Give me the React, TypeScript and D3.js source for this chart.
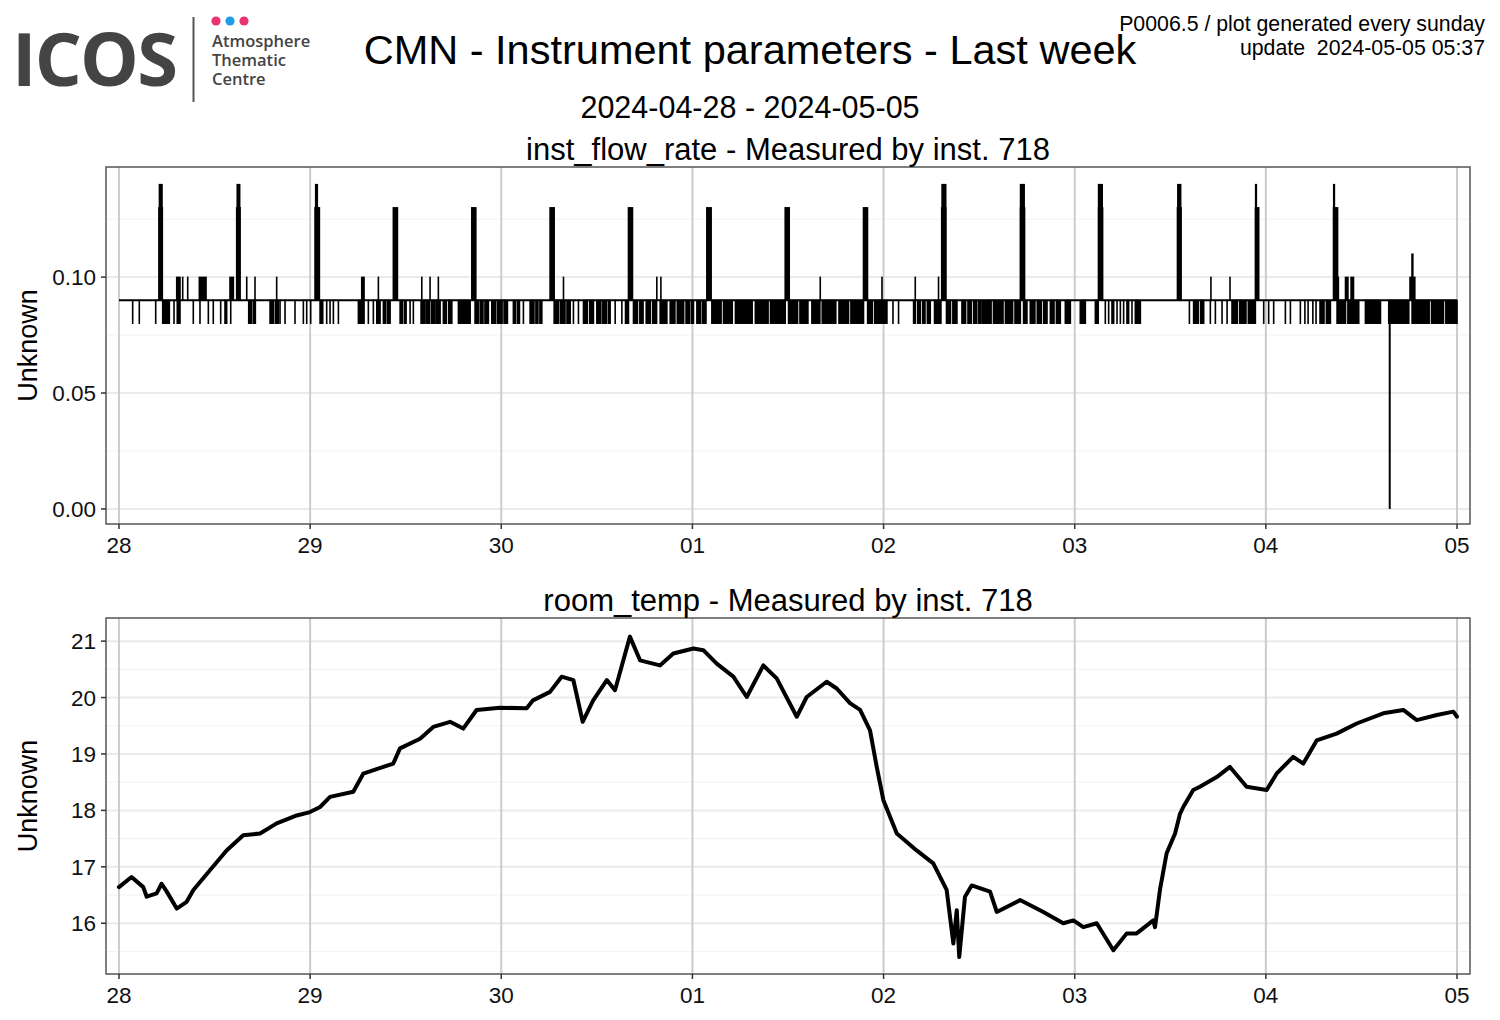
import React from "react";
import * as d3 from "d3";

// ---------- data ----------
const dayHours = [0, 24, 48, 72, 96, 120, 144, 168];
const dayLabels = ["28", "29", "30", "01", "02", "03", "04", "05"];

const flowMajor = [0, 0.05, 0.1];
const flowMajorLabels = ["0.00", "0.05", "0.10"];
const flowMinor = [0.025, 0.075, 0.125];

const tempMajor = [16, 17, 18, 19, 20, 21];
const tempMajorLabels = ["16", "17", "18", "19", "20", "21"];
const tempMinor = [15.5, 16.5, 17.5, 18.5, 19.5, 20.5];

// inst_flow_rate: baseline value and short excursions [startHour, endHour, value]
const flowBaseline = 0.09;
const flowBaseStart = 0;
const flowBaseEnd = 168;

const flowDips: [number, number][] = [
  [1.72, 1.72], [2.55, 2.55], [4.61, 4.61], [5.49, 6.32], [6.91, 6.91], [7.32, 7.66],
  [9.33, 9.33], [10.17, 10.17], [11.22, 11.22], [11.84, 11.84], [12.77, 12.77], [13.31, 13.52],
  [14.03, 14.03], [16.29, 16.6], [16.85, 17.12], [18.97, 19.4], [19.65, 20.01], [20.22, 20.22],
  [20.85, 20.85], [22.1, 22.1], [23.15, 23.15], [23.57, 23.57], [24.07, 24.07], [25.25, 25.58],
  [26.08, 26.08], [26.5, 26.5], [26.92, 26.92], [27.55, 27.55], [30.06, 30.77], [31.31, 31.31],
  [31.94, 31.94], [32.37, 32.78], [33.2, 33.5], [33.75, 34.04], [35.3, 35.6], [35.85, 36.05],
  [36.55, 36.55], [36.96, 36.96], [37.93, 38.43], [38.65, 39.0], [39.25, 39.69], [39.9, 40.32],
  [40.73, 41.1], [41.4, 41.79], [42.62, 44.09], [44.71, 45.1], [45.35, 45.7], [45.95, 46.38],
  [46.81, 47.3], [47.55, 48.1], [48.35, 48.77], [49.52, 49.8], [50.05, 50.28], [50.78, 50.78],
  [51.62, 52.1], [52.35, 52.6], [52.85, 53.09], [54.64, 55.2], [55.45, 56.0], [56.25, 56.65],
  [57.06, 57.06], [57.69, 57.69], [58.32, 58.8], [59.1, 59.57], [60.0, 60.5], [60.75, 61.2],
  [61.45, 61.67], [62.3, 62.3], [63.14, 63.14], [63.6, 63.97], [64.6, 65.1], [65.4, 65.8],
  [66.2, 66.7], [67.0, 67.5], [67.95, 68.79], [69.21, 69.8], [70.1, 70.9], [71.2, 71.6],
  [71.85, 72.13], [72.56, 73.0], [73.25, 73.7], [74.44, 75.6], [75.9, 77.0], [77.4, 79.5],
  [79.9, 81.5], [81.8, 83.65], [84.07, 85.2], [85.5, 86.5], [87.0, 88.0], [88.3, 90.0],
  [90.4, 91.6], [91.9, 93.48], [94.0, 94.6], [94.9, 95.5], [95.58, 96.42], [97.18, 97.18],
  [97.88, 97.88], [99.77, 100.0], [100.3, 100.6], [100.9, 101.2], [101.5, 101.86], [102.4, 103.2],
  [103.9, 104.4], [104.7, 105.21], [105.84, 106.3], [106.6, 107.0], [107.3, 107.7], [107.95, 108.14],
  [108.35, 109.5], [109.8, 111.0], [111.3, 112.2], [112.5, 113.17], [113.58, 114.0],
  [114.42, 115.0], [115.3, 115.8], [116.1, 116.52], [116.94, 117.4], [117.7, 118.19],
  [118.82, 119.45], [120.7, 121.33], [122.59, 122.95], [123.84, 123.84], [124.26, 124.26],
  [124.68, 124.89], [125.31, 125.31], [125.73, 125.73], [126.14, 126.14], [126.56, 126.77],
  [127.19, 127.19], [127.61, 128.24], [134.4, 134.4], [134.93, 135.5], [135.8, 136.19],
  [137.03, 137.03], [137.66, 137.66], [138.5, 138.5], [139.13, 139.13], [139.75, 140.4],
  [140.7, 141.5], [141.8, 142.68], [143.73, 143.73], [144.35, 144.35], [144.98, 144.98],
  [146.45, 146.45], [147.08, 147.08], [148.33, 148.33], [148.9, 148.9], [149.3, 149.3],
  [149.9, 149.9], [150.3, 150.3], [150.8, 151.3], [151.6, 152.1], [152.94, 154.0],
  [154.3, 155.66], [156.5, 158.39], [159.43, 161.94], [162.36, 164.5], [164.8, 166.3],
  [166.6, 168.0],
];
const flowDipValue = 0.08;

const flowUps: [number, number, number][] = [
  [7.25, 7.66, 0.1], [8.0, 8.0, 0.1], [8.63, 8.63, 0.1], [10.09, 10.93, 0.1], [13.94, 14.36, 0.1],
  [16.04, 16.04, 0.1], [17.08, 17.08, 0.1], [19.8, 19.8, 0.1], [25.04, 25.04, 0.1],
  [30.48, 30.77, 0.1], [32.57, 32.57, 0.1], [38.02, 38.02, 0.1], [39.06, 39.06, 0.1],
  [40.1, 40.1, 0.1], [55.81, 55.81, 0.1], [67.53, 67.53, 0.1], [68.04, 68.04, 0.1],
  [88.05, 88.05, 0.1], [95.8, 95.8, 0.1], [99.98, 99.98, 0.1], [102.9, 102.9, 0.1],
  [137.1, 137.1, 0.1], [139.5, 139.5, 0.1], [153.1, 153.1, 0.1], [154.0, 154.3, 0.1],
  [154.7, 155.0, 0.1], [162.1, 162.7, 0.1], [162.35, 162.45, 0.11],
];

const flowPeaks: [number, number, number][] = [
  [5.02, 5.44, 0.13], [5.08, 5.4, 0.14],
  [14.78, 15.2, 0.13], [14.85, 15.15, 0.14],
  [24.62, 25.16, 0.13], [24.7, 24.9, 0.14],
  [34.45, 34.96, 0.13],
  [44.3, 44.8, 0.13],
  [54.13, 54.64, 0.13],
  [63.97, 64.47, 0.13],
  [73.81, 74.35, 0.13],
  [83.65, 84.15, 0.13],
  [93.48, 93.98, 0.13],
  [103.3, 103.8, 0.13], [103.35, 103.8, 0.14],
  [113.2, 113.7, 0.13], [113.2, 113.65, 0.14],
  [123.0, 123.5, 0.13], [123.0, 123.45, 0.14],
  [132.9, 133.35, 0.13], [132.95, 133.3, 0.14],
  [142.7, 143.1, 0.13], [142.72, 142.8, 0.14],
  [152.5, 153.0, 0.13], [152.52, 152.6, 0.14],
];

const flowDrops: [number, number][] = [[159.55, 0]];

// room_temp: hours since 2024-04-28 00:00 and values (deg C)
const tempHours = [
  0, 1.58, 3.05, 3.48, 4.73, 5.35, 6.0, 7.25, 8.5, 9.34, 11.42, 13.51, 15.6, 17.71, 19.8, 22.32,
  23.98, 25.25, 26.5, 29.42, 30.67, 33.19, 34.44, 35.28, 37.8, 39.46, 41.57, 43.22, 44.9, 47.83,
  51.19, 51.98, 54.12, 55.58, 57.05, 58.22, 59.54, 61.25, 62.28, 64.15, 65.42, 67.92, 69.6,
  72.12, 73.37, 75.05, 77.14, 78.82, 80.9, 82.58, 85.1, 86.35, 88.85, 90.12, 91.78, 93.05, 94.3,
  95.14, 95.98, 97.66, 100.15, 102.24, 103.92, 104.76, 105.19, 105.5, 106.22, 107.06, 109.37,
  110.21, 113.14, 116.06, 118.56, 119.83, 121.08, 122.76, 124.85, 126.53, 127.78, 129.86, 130.08,
  130.7, 131.54, 132.6, 133.22, 133.63, 134.88, 135.72, 137.83, 139.49, 141.58, 144.1, 145.34,
  147.43, 148.7, 150.38, 152.88, 155.4, 158.74, 161.26, 162.94, 165.46, 167.54, 168,
];
const tempValues = [
  16.64, 16.82, 16.64, 16.47, 16.53, 16.7, 16.56, 16.26, 16.38, 16.59, 16.94, 17.29, 17.56, 17.59,
  17.77, 17.91, 17.97, 18.06, 18.24, 18.33, 18.65, 18.77, 18.83, 19.1, 19.27, 19.48, 19.57, 19.45,
  19.78, 19.82, 19.81, 19.95, 20.1, 20.37, 20.31, 19.57, 19.95, 20.31, 20.13, 21.08, 20.66, 20.57,
  20.78, 20.87, 20.84, 20.6, 20.37, 20.01, 20.57, 20.34, 19.66, 20.01, 20.28, 20.16, 19.9, 19.78,
  19.42, 18.77, 18.18, 17.59, 17.29, 17.06, 16.59, 15.64, 16.23, 15.4, 16.47, 16.67, 16.56, 16.2,
  16.41, 16.2, 16.0, 16.05, 15.93, 16.0, 15.52, 15.82, 15.82, 16.05, 15.93, 16.59, 17.24, 17.59,
  17.94, 18.06, 18.36, 18.42, 18.59, 18.77, 18.42, 18.36, 18.65, 18.95, 18.83, 19.24, 19.36, 19.54,
  19.72, 19.78, 19.6, 19.69, 19.75, 19.66,
];

// ---------- layout ----------
const W = 1500;
const H = 1020;
const LEFT = 106;
const RIGHT = 1470;
const P1 = { top: 167, bottom: 524 };
const P2 = { top: 618, bottom: 974 };
const FONT = "'Liberation Sans', Arial, Helvetica, sans-serif";

const x = d3.scaleLinear().domain([-1.63, 169.63]).range([LEFT, RIGHT]);
const y1 = d3.scaleLinear().domain([-0.0065, 0.1475]).range([P1.bottom, P1.top]);
const y2 = d3.scaleLinear().domain([15.1, 21.41]).range([P2.bottom, P2.top]);

function Panel(props: {
  top: number;
  bottom: number;
  y: d3.ScaleLinear<number, number>;
  major: number[];
  majorLabels: string[];
  minor: number[];
  title: string;
  children?: React.ReactNode;
}) {
  const { top, bottom, y, major, majorLabels, minor, title } = props;
  const cy = (top + bottom) / 2;
  return (
    <g>
      <rect x={LEFT} y={top} width={RIGHT - LEFT} height={bottom - top} fill="#fff" />
      {minor.map((v) => (
        <line key={"mi" + v} x1={LEFT} x2={RIGHT} y1={y(v)} y2={y(v)} stroke="#f2f2f2" strokeWidth={1} />
      ))}
      {major.map((v) => (
        <line key={"ma" + v} x1={LEFT} x2={RIGHT} y1={y(v)} y2={y(v)} stroke="#ebebeb" strokeWidth={2} />
      ))}
      {dayHours.map((h) => (
        <line key={"v" + h} x1={x(h)} x2={x(h)} y1={top} y2={bottom} stroke="#cccccc" strokeWidth={2} />
      ))}
      {props.children}
      <rect x={LEFT} y={top} width={RIGHT - LEFT} height={bottom - top} fill="none" stroke="#555" strokeWidth={1.5} />
      {major.map((v, i) => (
        <g key={"yt" + v}>
          <line x1={LEFT - 5} x2={LEFT} y1={y(v)} y2={y(v)} stroke="#333" strokeWidth={1.5} />
          <text x={LEFT - 10} y={y(v)} dy="0.36em" textAnchor="end" fontSize={22.5} fontFamily={FONT} fill="#111">
            {majorLabels[i]}
          </text>
        </g>
      ))}
      {dayHours.map((h, i) => (
        <g key={"xt" + h}>
          <line x1={x(h)} x2={x(h)} y1={bottom} y2={bottom + 5} stroke="#333" strokeWidth={1.5} />
          <text x={x(h)} y={bottom + 29} textAnchor="middle" fontSize={22.5} fontFamily={FONT} fill="#111">
            {dayLabels[i]}
          </text>
        </g>
      ))}
      <text
        transform={`translate(37,${cy}) rotate(-90)`}
        textAnchor="middle"
        fontSize={27}
        fontFamily={FONT}
        fill="#000"
      >
        Unknown
      </text>
      <text x={(LEFT + RIGHT) / 2} y={top - 7} textAnchor="middle" fontSize={31} fontFamily={FONT} fill="#000">
        {title}
      </text>
    </g>
  );
}

function Logo() {
  return (
    <g>
      <text
        x={12}
        y={86}
        fontFamily="'Open Sans', sans-serif"
        fontWeight={700}
        fontSize={74}
        fill="#444"
        textLength={166}
        lengthAdjust="spacing"
      >
        ICOS
      </text>
      <line x1={193.5} x2={193.5} y1={17} y2={102} stroke="#555" strokeWidth={2} />
      <circle cx={216} cy={21} r={4.6} fill="#e8336d" />
      <circle cx={230} cy={21} r={4.6} fill="#1e9be9" />
      <circle cx={244} cy={21} r={4.6} fill="#e8336d" />
      {["Atmosphere", "Thematic", "Centre"].map((t, i) => (
        <text
          key={t}
          x={212}
          y={47 + i * 19}
          fontFamily="'Open Sans', sans-serif"
          fontWeight={600}
          fontSize={16.5}
          fill="#444"
        >
          {t}
        </text>
      ))}
    </g>
  );
}

function evRect(s: number, e: number, from: number, to: number, ys: d3.ScaleLinear<number, number>, key: string) {
  const xa = x(s) - 0.8;
  const w = Math.max(x(e) - x(s), 0) + 1.6;
  const ya = Math.min(ys(from), ys(to));
  const hh = Math.abs(ys(from) - ys(to));
  return <rect key={key} x={xa} y={ya - 0.5} width={w} height={hh + 1} fill="#000" />;
}

export default function App() {
  const tempLine = d3
    .line<number>()
    .x((_, i) => x(tempHours[i]))
    .y((v) => y2(v));
  const tempPath = tempLine(tempValues) || "";

  return (
    <div style={{ position: "absolute", left: 0, top: 0 }}>
      <svg width={W} height={H} viewBox={`0 0 ${W} ${H}`} style={{ display: "block", background: "#fff" }}>
        <rect x={0} y={0} width={W} height={H} fill="#fff" />
        <Logo />
        <text x={750} y={64} textAnchor="middle" fontSize={41.5} fontFamily={FONT} fill="#000">
          CMN - Instrument parameters - Last week
        </text>
        <text x={750} y={118} textAnchor="middle" fontSize={30.5} fontFamily={FONT} fill="#000">
          2024-04-28 - 2024-05-05
        </text>
        <text x={1485} y={31} textAnchor="end" fontSize={21.3} fontFamily={FONT} fill="#000">
          P0006.5 / plot generated every sunday
        </text>
        <text x={1485} y={55} textAnchor="end" fontSize={21.3} fontFamily={FONT} fill="#000" style={{ whiteSpace: "pre" }}>
          {"update  2024-05-05 05:37"}
        </text>

        <Panel
          top={P1.top}
          bottom={P1.bottom}
          y={y1}
          major={flowMajor}
          majorLabels={flowMajorLabels}
          minor={flowMinor}
          title="inst_flow_rate - Measured by inst. 718"
        >
          <line
            x1={x(flowBaseStart)}
            x2={x(flowBaseEnd)}
            y1={y1(flowBaseline)}
            y2={y1(flowBaseline)}
            stroke="#000"
            strokeWidth={2}
          />
          {flowDips.map(([s, e], i) => evRect(s, e, flowBaseline, flowDipValue, y1, "d" + i))}
          {flowUps.map(([s, e, v], i) => evRect(s, e, flowBaseline, v, y1, "u" + i))}
          {flowPeaks.map(([s, e, v], i) => evRect(s, e, flowBaseline, v, y1, "p" + i))}
          {flowDrops.map(([t, v], i) => (
            <line key={"z" + i} x1={x(t)} x2={x(t)} y1={y1(flowBaseline)} y2={y1(v)} stroke="#000" strokeWidth={2} />
          ))}
        </Panel>

        <Panel
          top={P2.top}
          bottom={P2.bottom}
          y={y2}
          major={tempMajor}
          majorLabels={tempMajorLabels}
          minor={tempMinor}
          title="room_temp - Measured by inst. 718"
        >
          <path d={tempPath} fill="none" stroke="#000" strokeWidth={4} strokeLinejoin="round" strokeLinecap="round" />
        </Panel>
      </svg>
    </div>
  );
}
